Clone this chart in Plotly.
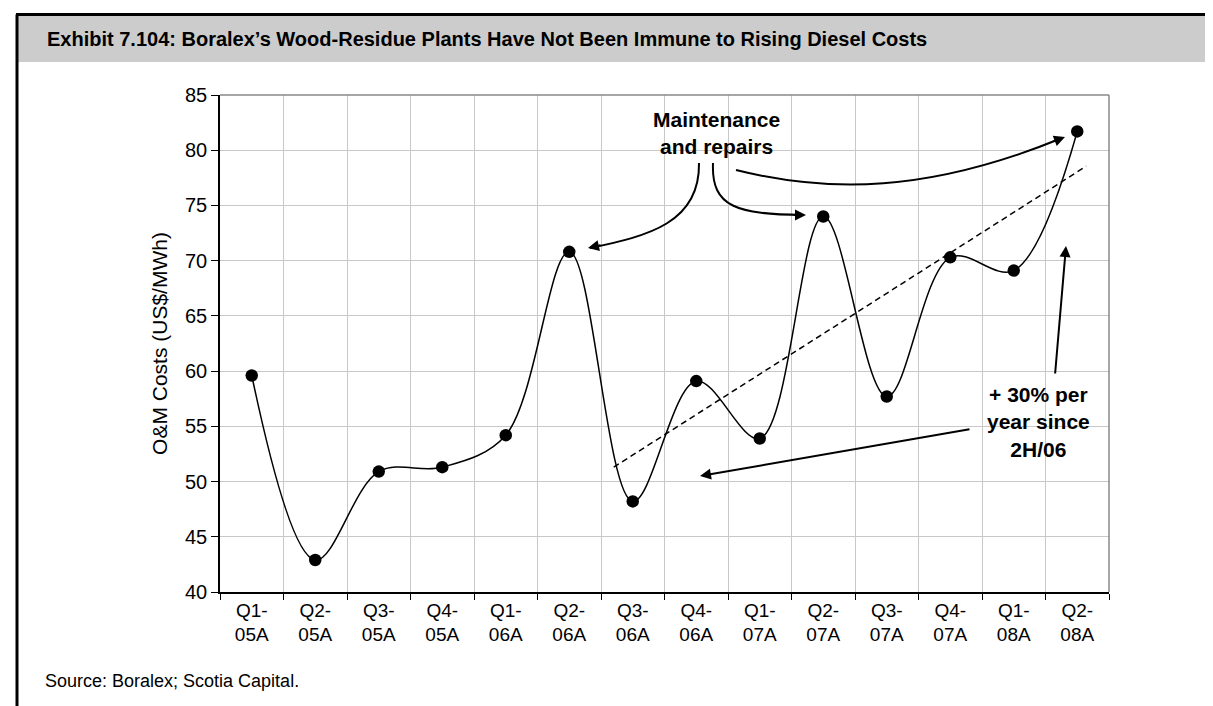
import plotly.graph_objects as go

# ---- data ----
quarters = ["Q1-<br>05A", "Q2-<br>05A", "Q3-<br>05A", "Q4-<br>05A",
            "Q1-<br>06A", "Q2-<br>06A", "Q3-<br>06A", "Q4-<br>06A",
            "Q1-<br>07A", "Q2-<br>07A", "Q3-<br>07A", "Q4-<br>07A",
            "Q1-<br>08A", "Q2-<br>08A"]
om_costs = [59.6, 42.9, 50.9, 51.3, 54.2, 70.8, 48.2, 59.1,
            53.9, 74.0, 57.7, 70.3, 69.1, 81.7]
# hand-drawn trend line (category index, value)
trend_x = [5.7, 13.14]
trend_y = [51.3, 78.55]
y_ticks = [40, 45, 50, 55, 60, 65, 70, 75, 80, 85]

FONT = "Liberation Sans, Arial, sans-serif"
W_FIG, H_FIG = 1213, 706
L, R, T, B = 212, 1101, 87, 584


def px(x):
    return (x - L) / (R - L)


def py(y):
    return (B - y) / (B - T)


fig = go.Figure()
fig.add_trace(go.Scatter(
    x=quarters, y=om_costs, mode="lines+markers",
    line=dict(color="black", width=1.5, shape="spline", smoothing=1.0),
    marker=dict(color="black", size=12.5),
    showlegend=False, hoverinfo="skip"))

shapes = []
# title bar
shapes.append(dict(type="rect", xref="paper", yref="paper",
                   x0=px(10), x1=px(1208), y0=py(54), y1=py(8),
                   fillcolor="#cccccc", line=dict(width=0), layer="below"))
# outer frame
for (x0, y0, x1, y1) in [(8, 6.5, 1211, 6.5), (9, 6.5, 9, 706), (1209.5, 6.5, 1209.5, 706)]:
    shapes.append(dict(type="line", xref="paper", yref="paper",
                       x0=px(x0), x1=px(x1), y0=py(y0), y1=py(y1),
                       line=dict(color="black", width=3)))
# plot area top/right border (gray)
shapes.append(dict(type="line", xref="paper", yref="paper", x0=0, x1=1, y0=1, y1=1,
                   line=dict(color="#888888", width=1.5)))
shapes.append(dict(type="line", xref="paper", yref="paper", x0=1, x1=1, y0=0, y1=1,
                   line=dict(color="#888888", width=1.5)))
# trend line
shapes.append(dict(type="line", xref="x", yref="y",
                   x0=trend_x[0], y0=trend_y[0], x1=trend_x[1], y1=trend_y[1],
                   line=dict(color="black", width=1.5, dash="6px,4px")))


def bez(p0, p1, p2, p3):
    pts = [p0, p1, p2, p3]
    s = [f"{px(a):.5f},{py(b):.5f}" for a, b in pts]
    return f"M {s[0]} C {s[1]} {s[2]} {s[3]}"


curves = [
    ((691, 155), (692, 215), (640, 228), (582, 240)),
    ((705, 155), (703, 200), (730, 206), (795, 207)),
    ((728, 162), (820, 185), (920, 185), (1054, 130)),
]
for c in curves:
    shapes.append(dict(type="path", xref="paper", yref="paper", path=bez(*c),
                       line=dict(color="black", width=2)))

annotations = []
# arrowheads for curves (tip, tail offset)
for tip, (ax, ay) in [((580, 240), (14, -3)), ((798, 207), (-14, 0)), ((1057, 129), (-13, 5))]:
    annotations.append(dict(x=px(tip[0]), y=py(tip[1]), xref="paper", yref="paper",
                            ax=ax, ay=ay, text="", showarrow=True,
                            arrowhead=2, arrowsize=1.1, arrowwidth=2, arrowcolor="black"))
# straight arrows
annotations.append(dict(x=px(692), y=py(468), xref="paper", yref="paper",
                        ax=963 - 692, ay=421 - 468, text="", showarrow=True,
                        arrowhead=2, arrowsize=1.1, arrowwidth=2, arrowcolor="black"))
annotations.append(dict(x=px(1058), y=py(238), xref="paper", yref="paper",
                        ax=1047 - 1058, ay=367 - 238, text="", showarrow=True,
                        arrowhead=2, arrowsize=1.1, arrowwidth=2, arrowcolor="black"))
# texts
annotations.append(dict(x=px(708), y=py(125), xref="paper", yref="paper",
                        xanchor="center", yanchor="middle",
                        text="<b>Maintenance<br>and repairs</b>", showarrow=False,
                        font=dict(family=FONT, size=21, color="black"), align="center"))
annotations.append(dict(x=px(1030), y=py(414), xref="paper", yref="paper",
                        xanchor="center", yanchor="middle",
                        text="<b>+ 30% per<br>year since<br>2H/06</b>", showarrow=False,
                        font=dict(family=FONT, size=21, color="black"), align="center"))
annotations.append(dict(x=px(37), y=py(31), xref="paper", yref="paper",
                        xanchor="left", yanchor="middle",
                        text="<b>Exhibit 7.104: Boralex\u2019s Wood-Residue Plants Have Not Been Immune to Rising Diesel Costs</b>",
                        showarrow=False, font=dict(family=FONT, size=20, color="black")))
annotations.append(dict(x=px(35), y=py(673), xref="paper", yref="paper",
                        xanchor="left", yanchor="middle",
                        text="Source: Boralex; Scotia Capital.",
                        showarrow=False, font=dict(family=FONT, size=18, color="black")))

fig.update_layout(
    width=W_FIG, height=H_FIG,
    margin=dict(l=L, r=W_FIG - R, t=T, b=H_FIG - B, autoexpand=False),
    paper_bgcolor="white", plot_bgcolor="white",
    font=dict(family=FONT, color="black"),
    shapes=shapes, annotations=annotations,
    xaxis=dict(type="category", range=[-0.5, 13.5], tickson="boundaries",
               showgrid=True, gridcolor="#c8c8c8", gridwidth=1,
               showline=True, linecolor="black", linewidth=1.5,
               ticks="outside", ticklen=6, tickcolor="black",
               tickfont=dict(size=19), fixedrange=True),
    yaxis=dict(range=[40, 85], tickvals=y_ticks,
               showgrid=True, gridcolor="#c8c8c8", gridwidth=1,
               showline=True, linecolor="black", linewidth=1.5,
               ticks="outside", ticklen=7, tickcolor="black",
               tickfont=dict(size=20), zeroline=False,
               title=dict(text="O&M Costs (US$/MWh)", font=dict(size=21), standoff=12),
               fixedrange=True),
)

fig.write_html("out.html")
